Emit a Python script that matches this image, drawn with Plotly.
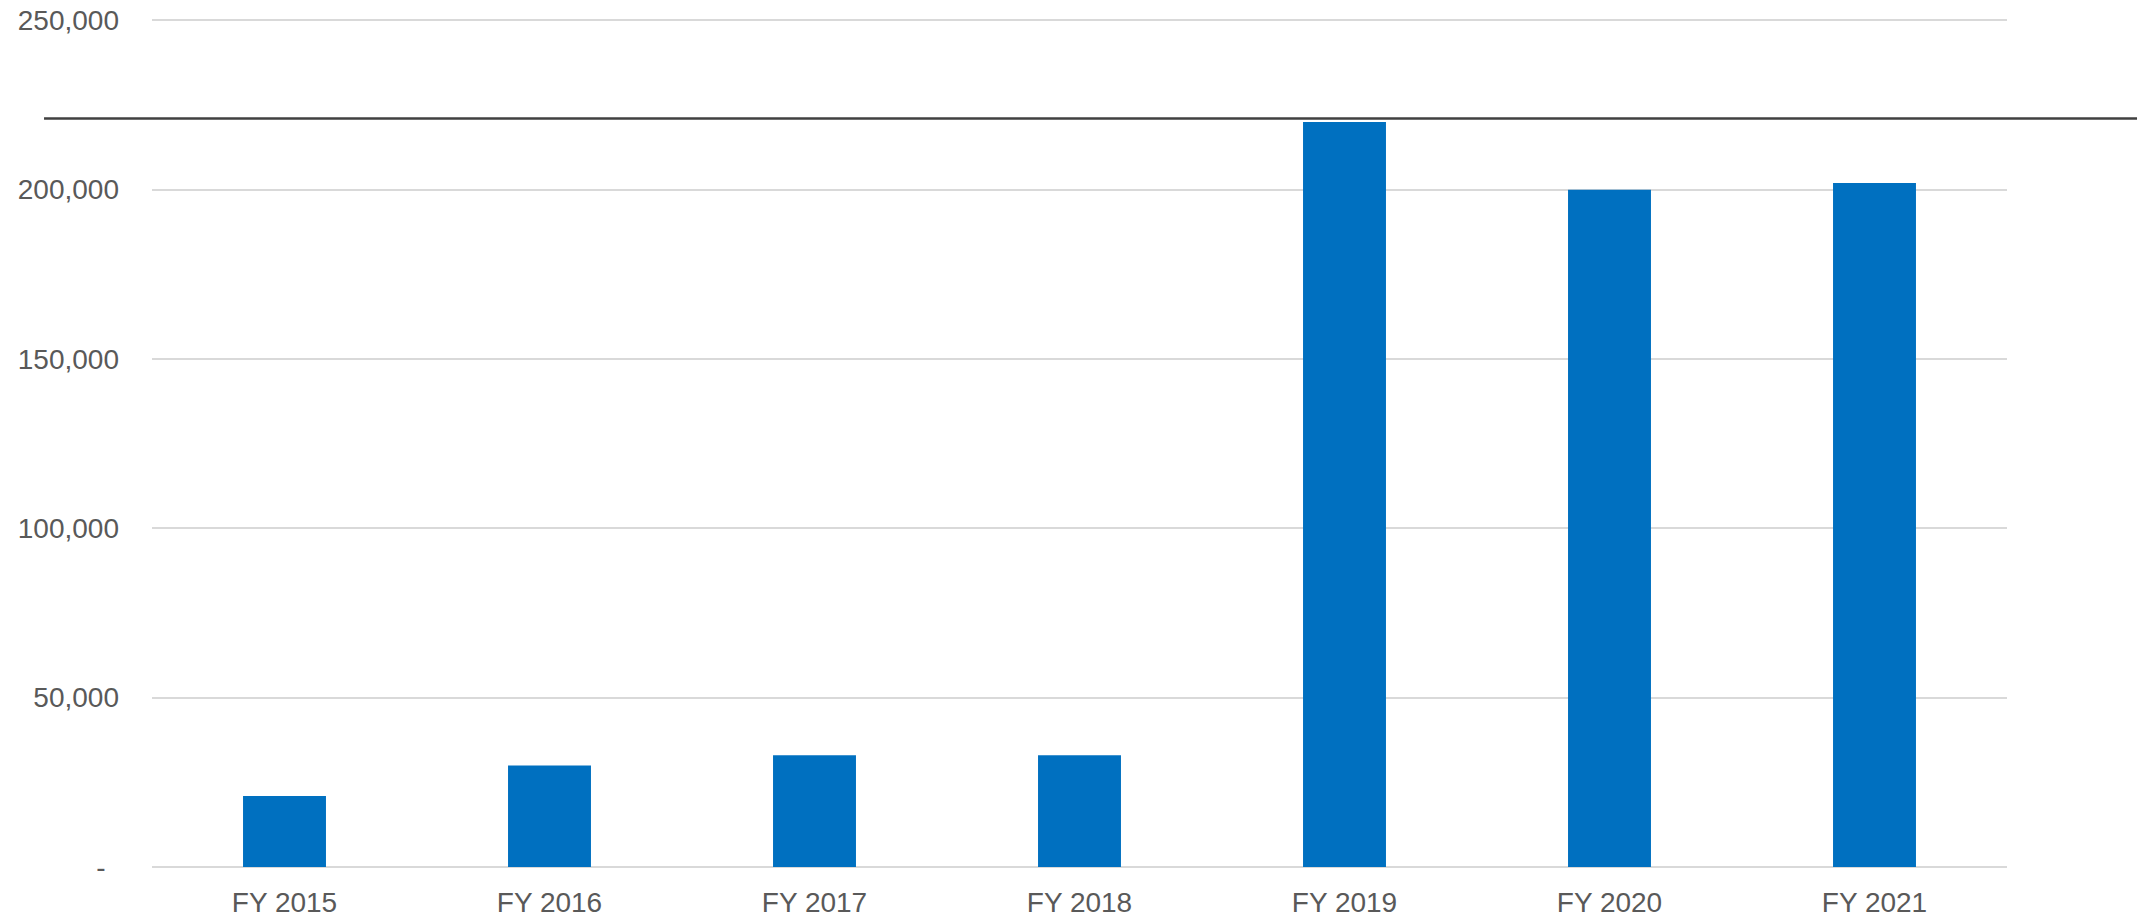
import plotly.graph_objects as go

# Annual totals by fiscal year
years = ["FY 2015", "FY 2016", "FY 2017", "FY 2018", "FY 2019", "FY 2020", "FY 2021"]
totals = [21000, 30000, 33000, 33000, 220000, 200000, 202000]

# Reference level drawn across the chart
reference_level = 221000

# Value axis ticks (accounting-style zero shown as a dash)
y_tick_values = [0, 50000, 100000, 150000, 200000, 250000]
y_tick_labels = ["-\u00a0\u2009", "50,000", "100,000", "150,000", "200,000", "250,000"]

BAR_COLOR = "#0070C0"
TEXT_COLOR = "#595959"
GRID_COLOR = "#D9D9D9"
FONT = "Liberation Sans, Arial, sans-serif"

fig = go.Figure(
    go.Bar(
        x=years,
        y=totals,
        marker=dict(color=BAR_COLOR, line=dict(width=0)),
        hoverinfo="x+y",
    )
)

fig.add_shape(
    type="line",
    xref="paper",
    yref="y",
    x0=-0.0582,
    x1=1.0701,
    y0=reference_level,
    y1=reference_level,
    line=dict(color="#404040", width=2.5),
    layer="above",
)

fig.update_layout(
    width=2150,
    height=919,
    margin=dict(l=152, r=143, t=19, b=52),
    paper_bgcolor="white",
    plot_bgcolor="white",
    bargap=0.687,
    showlegend=False,
    font=dict(family=FONT, size=28, color=TEXT_COLOR),
)

fig.update_xaxes(
    automargin=False,
    showgrid=False,
    showline=False,
    ticks="",
    tickfont=dict(family=FONT, size=28, color=TEXT_COLOR),
    ticklabelstandoff=16,
)

fig.update_yaxes(
    automargin=False,
    range=[0, 250400],
    tickvals=y_tick_values,
    ticktext=y_tick_labels,
    showgrid=True,
    gridcolor=GRID_COLOR,
    gridwidth=2,
    zeroline=True,
    zerolinecolor=GRID_COLOR,
    zerolinewidth=2,
    showline=False,
    ticks="",
    ticklabelstandoff=32,
    tickfont=dict(family=FONT, size=28, color=TEXT_COLOR),
)

fig.write_html("out.html")
